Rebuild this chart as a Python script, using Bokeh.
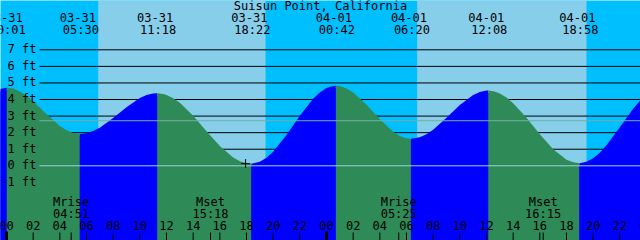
from bokeh.plotting import figure
from bokeh.models import Range1d
from bokeh.core.properties import value
from bokeh.embed import file_html
from bokeh.resources import INLINE

# ---------------- data (hours counted from 03-31 00:00) ----------------
station = "Suisun Point, California"

event_hours = [0.017, 5.5, 11.3, 18.367, 24.7, 30.333, 36.133, 42.967]
event_dates = ["03-31", "03-31", "03-31", "03-31", "04-01", "04-01", "04-01", "04-01"]
event_times = ["00:01", "05:30", "11:18", "18:22", "00:42", "06:20", "12:08", "18:58"]
event_ft = [4.71, 1.92, 4.38, 0.12, 4.83, 1.63, 4.54, 0.16]

tide_hours = [-1, -0.5, 0, 0.017, 0.5, 1, 1.5, 2, 3, 4, 4.5, 5, 5.5, 6, 6.5, 7, 8, 9, 10, 10.5, 11, 11.3,
              11.75, 12, 12.5, 13, 14, 15, 16, 17, 17.5, 18, 18.367, 19, 19.5, 20, 21, 22, 23, 23.5, 24,
              24.35, 24.7, 25, 25.5, 26, 27, 28, 29, 29.5, 30, 30.333, 31, 31.5, 32, 33, 34, 35, 35.5, 36,
              36.133, 36.6, 37, 37.5, 38, 39, 40, 41, 42, 42.5, 42.967, 43, 43.5, 44, 44.5, 45, 46, 47, 48]
tide_ft = [4.42, 4.63, 4.71, 4.71, 4.66, 4.49, 4.24, 3.90, 3.12, 2.40, 2.14, 1.98, 1.92, 1.96, 2.10, 2.30,
           2.89, 3.54, 4.09, 4.27, 4.36, 4.38,
           4.34, 4.28, 4.08, 3.80, 3.02, 2.09, 1.19, 0.50, 0.28, 0.15, 0.12, 0.24, 0.48, 0.85, 1.86, 3.02,
           4.04, 4.43, 4.69,
           4.79, 4.83, 4.81, 4.67, 4.43, 3.68, 2.81, 2.05, 1.80, 1.66, 1.63, 1.72, 1.91, 2.18, 2.90, 3.67,
           4.27, 4.46, 4.54,
           4.54, 4.49, 4.37, 4.12, 3.78, 2.90, 1.90, 1.00, 0.37, 0.21, 0.16, 0.16, 0.24, 0.46, 0.79, 1.24,
           2.32, 3.45, 4.37]

sunrise_hours = [6.88, 30.80]
sunset_hours = [19.43, 43.50]

moon_hours = [4.85, 15.30, 29.417, 40.25]
moon_names = ["Mrise", "Mset", "Mrise", "Mset"]
moon_times = ["04:51", "15:18", "05:25", "16:15"]

level_ft = [7, 6, 5, 4, 3, 2, 1, 0, -1]
level_labels = ["7 ft", "6 ft", "5 ft", "4 ft", "3 ft", "2 ft", "1 ft", "0 ft", "-1 ft"]
datum_ft = 0.0
msl_ft = 2.72

hour_ticks = [0, 2, 4, 6, 8, 10, 12, 14, 16, 18, 20, 22,
              24, 26, 28, 30, 32, 34, 36, 38, 40, 42, 44, 46, 48]
hour_labels = ["00", "02", "04", "06", "08", "10", "12", "14", "16", "18", "20", "22",
               "00", "02", "04", "06", "08", "10", "12", "14", "16", "18", "20", "22", "00"]
midnight_hours = [0, 24]

mark_hour = [17.93]
mark_ft = [0.13]

# ---------------- styling ----------------
NIGHT = "#00BFFF"
DAY = "#87CEEB"
FLOOD = "#0000FF"
EBB = "#2E8B57"
FONT = value("DejaVu Sans Mono")
FS = value("12px")

p = figure(width=640, height=240, x_range=Range1d(-0.45, 47.55), y_range=Range1d(240, 0),
           output_backend="svg", toolbar_location=None, min_border=0,
           x_axis_type=None, y_axis_type=None, title=None)
p.extra_y_ranges = {"ft": Range1d(-4.508, 9.976)}
p.extra_x_ranges = {"px": Range1d(0, 640)}
p.background_fill_color = NIGHT
p.border_fill_color = NIGHT
p.outline_line_color = None

# daylight bands
p.quad(left=sunrise_hours, right=sunset_hours, top=0, bottom=240, fill_color=DAY, line_color=None)

# level lines (behind the water)
p.segment(x0=39, x1=640, y0=level_ft, y1=level_ft, x_range_name="px", y_range_name="ft",
          line_color="black", line_width=1)

# slightly lowered underlay hides anti-aliasing seams between the coloured stretches
p.varea(x=tide_hours, y1=[v - 0.15 for v in tide_ft], y2=-20, y_range_name="ft", fill_color=FLOOD)

# water, coloured by rising / falling
cuts = [0] + [tide_hours.index(h) for h in event_hours] + [len(tide_hours) - 1]
for a, b in zip(cuts[:-1], cuts[1:]):
    xs = tide_hours[a:b + 1]
    ys = tide_ft[a:b + 1]
    col = FLOOD if ys[-1] > ys[0] else EBB
    p.varea(x=xs, y1=ys, y2=-20, y_range_name="ft", fill_color=col)

# datum and mean-level lines
p.segment(x0=39, x1=640, y0=[datum_ft], y1=[datum_ft], x_range_name="px", y_range_name="ft",
          line_color="#9fd3e3", line_width=1)
p.segment(x0=39, x1=640, y0=[msl_ft], y1=[msl_ft], x_range_name="px", y_range_name="ft",
          line_color="#6fb3a6", line_width=1)

TXT = dict(text_baseline="alphabetic", text_font=FONT, text_font_size=FS, text_color="black")

# level labels
p.text(x=36, y=level_ft, text=level_labels, x_range_name="px", y_range_name="ft",
       text_align="right", y_offset=-0.5, **TXT)

# title and tide event labels
p.text(x=[320], y=[5.5], text=[station], x_range_name="px", text_align="center", **TXT)
p.text(x=event_hours, y=17, text=event_dates, text_align="center", x_offset=-2, **TXT)
p.text(x=event_hours, y=29, text=event_times, text_align="center", x_offset=1, **TXT)

# moon labels
p.text(x=moon_hours, y=201.7, text=moon_names, text_align="center", **TXT)
p.text(x=moon_hours, y=213.3, text=moon_times, text_align="center", **TXT)

# hour labels and ticks
p.text(x=hour_ticks, y=225, text=hour_labels, text_align="center", **TXT)
p.segment(x0=hour_ticks + moon_hours, x1=hour_ticks + moon_hours, y0=232, y1=240,
          line_color="black", line_width=1)
p.segment(x0=midnight_hours, x1=midnight_hours, y0=231, y1=240,
          line_color="black", line_width=3)

# marker
p.scatter(x=mark_hour, y=mark_ft, y_range_name="ft", marker="cross", size=9,
          line_color="black", line_width=1)

open("out.html", "w").write(file_html(p, INLINE))
